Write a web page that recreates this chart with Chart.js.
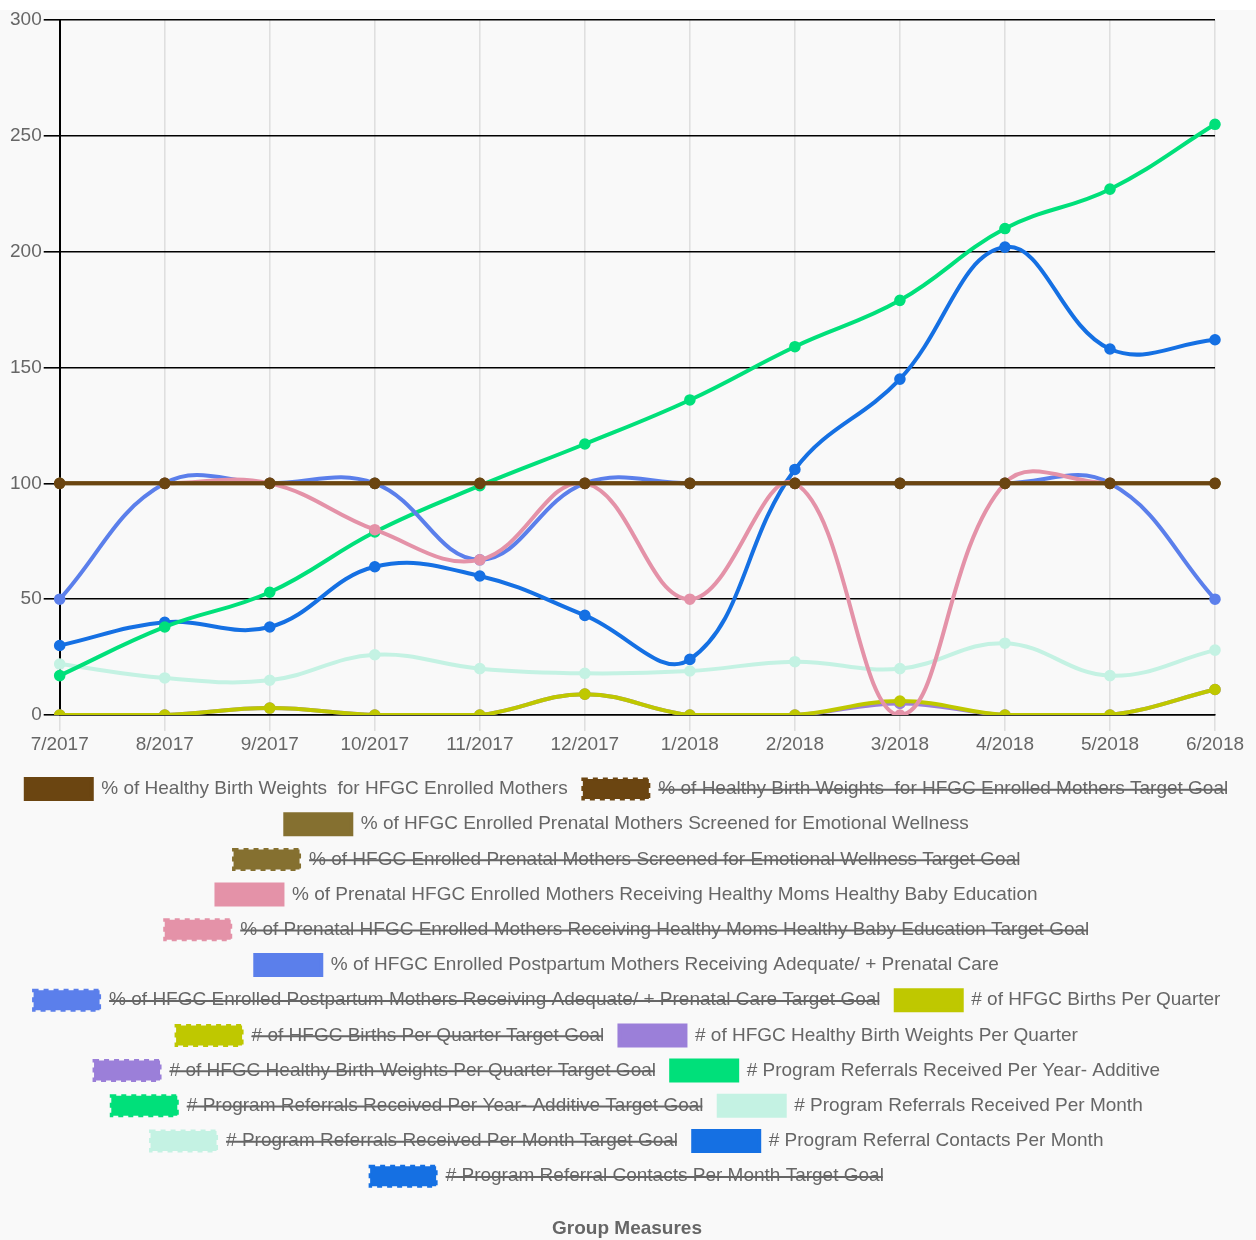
<!DOCTYPE html>
<html>
<head>
<meta charset="utf-8">
<title>Group Measures</title>
<script src="https://cdn.jsdelivr.net/npm/chart.js@4.4.1/dist/chart.umd.min.js"></script>
<style>
  html, body { margin: 0; padding: 0; background: #ffffff; }
  #wrap { position: absolute; left: 0; top: 10px; width: 1256px; height: 1230px; background: #f9f9f9; }
</style>
</head>
<body>
<div id="wrap"><canvas id="chart"></canvas></div>
<script>
// Reporting months
const months = ['7/2017', '8/2017', '9/2017', '10/2017', '11/2017', '12/2017',
                '1/2018', '2/2018', '3/2018', '4/2018', '5/2018', '6/2018'];

// Y axis ticks
const yTicks = [0, 50, 100, 150, 200, 250, 300];

// Measure values per month
const healthyBirthWeightsPct = [100, 100, 100, 100, 100, 100, 100, 100, 100, 100, 100, 100];
const screenedEmotionalPct   = [100, 100, 100, 100, 100, 100, 100, 100, 100, 100, 100, 100];
const hmhbEducationPct       = [null, 100, 100, 80, 67, 100, 50, 100, 0, 100, 100, null];
const adequateCarePct        = [50, 100, 100, 100, 67, 100, 100, 100, 100, 100, 100, 50];
const birthsPerQuarter       = [0, 0, 3, 0, 0, 9, 0, 0, 6, 0, 0, 11];
const healthyWeightsPerQtr   = [0, 0, 3, 0, 0, 9, 0, 0, 5, 0, 0, 11];
const referralsPerYear       = [17, 38, 53, 79, 99, 117, 136, 159, 179, 210, 227, 255];
const referralsPerMonth      = [22, 16, 15, 26, 20, 18, 19, 23, 20, 31, 17, 28];
const referralContacts       = [30, 40, 38, 64, 60, 43, 24, 106, 145, 202, 158, 162];

// Target goal series are hidden by default
const targetGoal = [];

const FONT = "'Liberation Sans', Arial, Helvetica, sans-serif";
const TEXT = '#666666';

function measure(label, data, color) {
  return {
    label: label,
    data: data,
    borderColor: color,
    backgroundColor: color,
    pointBackgroundColor: color,
    pointBorderColor: color,
    borderWidth: 4,
    pointRadius: 5,
    pointBorderWidth: 1.6,
    pointHoverRadius: 6,
    tension: 0.4,
    fill: false,
    spanGaps: false
  };
}

function goal(label, color) {
  return {
    label: label,
    data: targetGoal,
    borderColor: color,
    backgroundColor: color,
    borderWidth: 3,
    borderDash: [5, 5],
    pointRadius: 0,
    fill: false,
    hidden: true
  };
}

const datasets = [
  measure('% of Healthy Birth Weights  for HFGC Enrolled Mothers', healthyBirthWeightsPct, '#6b4511'),
  goal('% of Healthy Birth Weights  for HFGC Enrolled Mothers Target Goal', '#6b4511'),
  measure('% of HFGC Enrolled Prenatal Mothers Screened for Emotional Wellness', screenedEmotionalPct, '#857030'),
  goal('% of HFGC Enrolled Prenatal Mothers Screened for Emotional Wellness Target Goal', '#857030'),
  measure('% of Prenatal HFGC Enrolled Mothers Receiving Healthy Moms Healthy Baby Education', hmhbEducationPct, '#e492a8'),
  goal('% of Prenatal HFGC Enrolled Mothers Receiving Healthy Moms Healthy Baby Education Target Goal', '#e492a8'),
  measure('% of HFGC Enrolled Postpartum Mothers Receiving Adequate/ + Prenatal Care', adequateCarePct, '#5b7feb'),
  goal('% of HFGC Enrolled Postpartum Mothers Receiving Adequate/ + Prenatal Care Target Goal', '#5b7feb'),
  measure('# of HFGC Births Per Quarter', birthsPerQuarter, '#bfc800'),
  goal('# of HFGC Births Per Quarter Target Goal', '#bfc800'),
  measure('# of HFGC Healthy Birth Weights Per Quarter', healthyWeightsPerQtr, '#9b7fd9'),
  goal('# of HFGC Healthy Birth Weights Per Quarter Target Goal', '#9b7fd9'),
  measure('# Program Referrals Received Per Year- Additive', referralsPerYear, '#00e07a'),
  goal('# Program Referrals Received Per Year- Additive Target Goal', '#00e07a'),
  measure('# Program Referrals Received Per Month', referralsPerMonth, '#c4f2e3'),
  goal('# Program Referrals Received Per Month Target Goal', '#c4f2e3'),
  measure('# Program Referral Contacts Per Month', referralContacts, '#1570e3'),
  goal('# Program Referral Contacts Per Month Target Goal', '#1570e3')
];

new Chart(document.getElementById('chart'), {
  type: 'line',
  data: { labels: months, datasets: datasets },
  options: {
    responsive: true,
    maintainAspectRatio: false,
    animation: false,
    layout: { padding: { left: 8, right: 10, top: 0, bottom: 0 } },
    scales: {
      x: {
        grid: { color: 'rgba(0,0,0,0.1)', lineWidth: 1.6, tickLength: 16, tickColor: 'rgba(0,0,0,0.1)' },
        border: { display: true, color: '#000000', width: 1.6 },
        ticks: { color: TEXT, font: { family: FONT, size: 19 }, padding: 2, maxRotation: 0, autoSkip: false },
        afterFit: (scale) => {
          scale.height += 6;
          // keep room on the right for the last month label
          scale.paddingRight = Math.max(scale.paddingRight, 41);
        }
      },
      y: {
        min: yTicks[0],
        max: yTicks[yTicks.length - 1],
        afterBuildTicks: (axis) => { axis.ticks = yTicks.map(v => ({ value: v })); },
        grid: { color: '#000000', lineWidth: 1.6, tickLength: 16, tickColor: '#000000' },
        border: { display: true, color: '#000000', width: 2 },
        ticks: { color: TEXT, font: { family: FONT, size: 19, lineHeight: 0.85 }, padding: 2 }
      }
    },
    plugins: {
      legend: {
        position: 'bottom',
        labels: {
          color: TEXT,
          font: { family: FONT, size: 19 },
          boxWidth: 66,
          boxHeight: 20,
          padding: 15.2
        }
      },
      title: {
        display: true,
        position: 'bottom',
        text: 'Group Measures',
        color: TEXT,
        font: { family: FONT, size: 19, weight: 'bold' },
        padding: { top: 21, bottom: 0 }
      },
      tooltip: { enabled: false }
    }
  }
});
</script>
</body>
</html>
